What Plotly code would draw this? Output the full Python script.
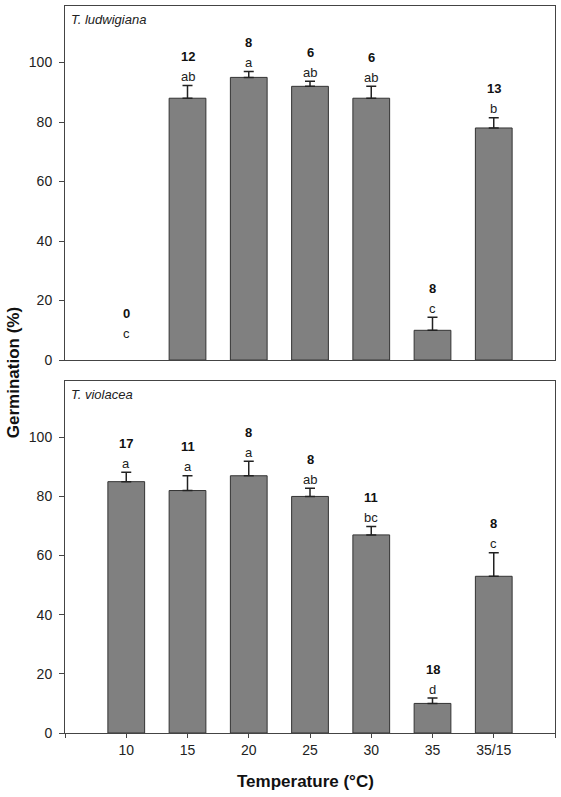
import plotly.graph_objects as go
from plotly.subplots import make_subplots

categories = ["10", "15", "20", "25", "30", "35", "35/15"]

lud_values = [0, 88, 95, 92, 88, 10, 78]
lud_err = [0, 4.3, 2.0, 1.7, 4.0, 4.4, 3.4]
lud_n = ["0", "12", "8", "6", "6", "8", "13"]
lud_letters = ["c", "ab", "a", "ab", "ab", "c", "b"]

vio_values = [85, 82, 87, 80, 67, 10, 53]
vio_err = [3.2, 5.0, 4.9, 2.8, 2.8, 1.8, 8.0]
vio_n = ["17", "11", "8", "8", "11", "18", "8"]
vio_letters = ["a", "a", "a", "ab", "bc", "d", "c"]

y_ticks = [0, 20, 40, 60, 80, 100]

FONT = "Liberation Sans, Arial, sans-serif"
xpos = list(range(len(categories)))

fig = make_subplots(rows=2, cols=1, shared_xaxes=False, vertical_spacing=0.029)

panels = [
    (1, lud_values, lud_err, lud_n, lud_letters, "T. ludwigiana"),
    (2, vio_values, vio_err, vio_n, vio_letters, "T. violacea"),
]

for row, vals, errs, ns, letters, name in panels:
    fig.add_trace(
        go.Bar(
            x=xpos, y=vals, width=0.6,
            marker=dict(color="#808080",
                        line=dict(color="#333333",
                                  width=[1 if v > 0 else 0 for v in vals])),
            showlegend=False, hoverinfo="skip",
        ),
        row=row, col=1,
    )
    nz = [i for i, v in enumerate(vals) if v > 0]
    fig.add_trace(
        go.Scatter(
            x=[xpos[i] for i in nz], y=[vals[i] for i in nz], mode="markers",
            marker=dict(size=0.1, color="rgba(0,0,0,0)"),
            error_y=dict(type="data", symmetric=False,
                         array=[errs[i] for i in nz],
                         arrayminus=[0] * len(nz), color="#222222",
                         thickness=1.5, width=5, visible=True),
            showlegend=False, hoverinfo="skip",
        ),
        row=row, col=1,
    )
    xref = "x" if row == 1 else "x2"
    yref = "y" if row == 1 else "y2"
    for i, (v, e, n, l) in enumerate(zip(vals, errs, ns, letters)):
        top = v + e if v > 0 else 6
        fig.add_annotation(x=i, y=top, xref=xref, yref=yref, text=l,
                           showarrow=False, yanchor="middle", yshift=9,
                           font=dict(family=FONT, size=13, color="#222"))
        fig.add_annotation(x=i, y=top, xref=xref, yref=yref, text="<b>%s</b>" % n,
                           showarrow=False, yanchor="middle", yshift=29,
                           font=dict(family=FONT, size=13, color="#111"))
    fig.add_annotation(x=-1, y=119, xref=xref, yref=yref, text="<i>%s</i>" % name,
                       showarrow=False, xanchor="left", yanchor="top",
                       xshift=4, yshift=-4,
                       font=dict(family=FONT, size=13, color="#222"))

axis_common = dict(showgrid=False, zeroline=False, showline=True, mirror=True,
                   linecolor="#444444", linewidth=1)

fig.update_xaxes(range=[-1, 7], **axis_common)
fig.update_xaxes(row=1, col=1, showticklabels=False, ticks="")
fig.update_xaxes(row=2, col=1, tickmode="array",
                 tickvals=[-1] + xpos + [7], ticktext=[""] + categories + [""],
                 ticks="outside", ticklen=4, tickcolor="#444",
                 tickfont=dict(family=FONT, size=14, color="#222"))
fig.update_yaxes(range=[0, 119], tickmode="array", tickvals=y_ticks,
                 ticks="outside", ticklen=5, tickcolor="#444",
                 ticklabelstandoff=4,
                 tickfont=dict(family=FONT, size=14, color="#222"), **axis_common)

fig.update_layout(
    width=561, height=797,
    margin=dict(l=65, r=6, t=6, b=64),
    plot_bgcolor="white", paper_bgcolor="white",
    bargap=0.4,
)
fig.layout.yaxis.domain = [0.513, 1.0]
fig.layout.yaxis2.domain = [0.0, 0.484]

fig.add_annotation(x=-0.106, y=0.495, xref="paper", yref="paper",
                   text="<b>Germination (%)</b>", textangle=-90, showarrow=False,
                   xanchor="center", yanchor="middle",
                   font=dict(family=FONT, size=17, color="#111"))
fig.add_annotation(x=0.49, y=-0.0674, xref="paper", yref="paper",
                   text="<b>Temperature (°C)</b>", showarrow=False,
                   xanchor="center", yanchor="middle",
                   font=dict(family=FONT, size=17, color="#111"))

fig.write_html("out.html")
